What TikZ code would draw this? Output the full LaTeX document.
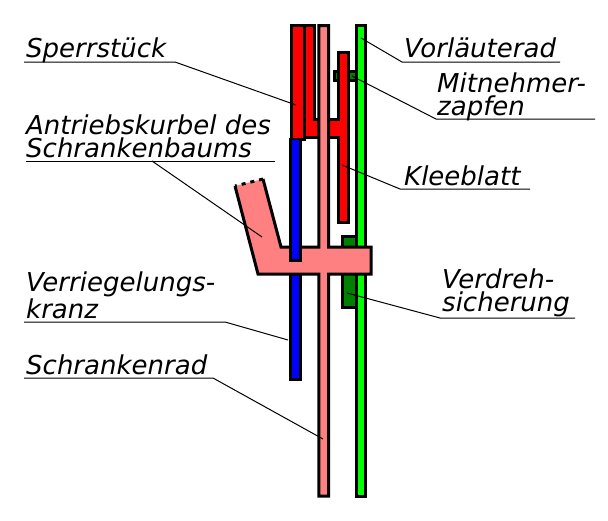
\documentclass[tikz,border=0pt]{standalone}
\usepackage{fontspec}
\setmainfont{DejaVu Sans}
\definecolor{rodpink}{RGB}{255,128,128}
\definecolor{pinred}{RGB}{255,0,0}
\definecolor{wheelgreen}{RGB}{0,255,0}
\definecolor{lockgreen}{RGB}{0,128,0}
\definecolor{ringblue}{RGB}{0,0,255}
\tikzstyle{part} = [draw=black, line width=3pt, miter limit=4]
\tikzstyle{leader} = [draw=black, line width=1pt]
\tikzstyle{lbl} = [inner sep=0pt, anchor=base west, align=left,
    font=\fontsize{26pt}{23pt}\selectfont\itshape]

\begin{document}
\begin{tikzpicture}[x=1pt, y=-1pt]
\useasboundingbox (0,0) rectangle (608,520);
% hidden parts first
\draw[part, fill=ringblue] (290.8,139.5) rectangle (300.2,379.5);
\draw[part, fill=lockgreen] (334,71.5) rectangle (360,80);
\draw[part, fill=lockgreen] (342,236.5) rectangle (360,307);
\draw[part, fill=wheelgreen] (356.5,25.5) rectangle (365.8,496);
% red parts
\draw[part, fill=pinred] (304.5,25.5) -- (314.5,25.5) -- (314.5,119) -- (338,119) -- (338,52.5)
    -- (348,52.5) -- (348,222) -- (338,222) -- (338,137) -- (304.5,137) -- cycle;
\draw[part, fill=pinred] (291.5,25.5) rectangle (304.5,139.5);
% Schrankenrad and crank
\fill[rodpink] (318.8,25.5) -- (328.5,25.5) -- (328.5,247) -- (371,247) -- (371,274) -- (328.5,274)
    -- (328.5,496) -- (318.8,496) -- (318.8,274) -- (258,274) -- (235,186) -- (263,179) -- (281,247)
    -- (318.8,247) -- cycle;
\draw[part, line join=miter] (235,186) -- (258,274) -- (318.8,274) -- (318.8,496) -- (328.5,496) -- (328.5,274)
    -- (371,274) -- (371,247) -- (328.5,247) -- (328.5,25.5) -- (318.8,25.5) -- (318.8,247) -- (281,247) -- (263,179);
\draw[line width=3pt, dash pattern=on 4pt off 5pt] (263,179) -- (235,186);
% ring in front of crank
\draw[part, fill=ringblue] (290.8,139.5) -- (290.8,260) -- (300.2,260) -- (300.2,139.5);
% labels
\node[lbl] (sperr) at (26,57) {Sperrstück};
\node[lbl] (antrieb) at (26,157) {Antriebskurbel des\\Schrankenbaums};
\node[lbl] (verrieg) at (26,318) {Verriegelungs-\\kranz};
\node[lbl] (schrank) at (26,374) {Schrankenrad};
\node[lbl] (vorl) at (404,57) {Vorläuterad};
\node[lbl] (mitn) at (437,115) {Mitnehmer-\\zapfen};
\node[lbl] (klee) at (404,185) {Kleeblatt};
\node[lbl] (verdreh) at (442,311) {Verdreh-\\sicherung};
% leader ends
\coordinate (sperrA) at (24,62);   \coordinate (sperrB) at (175,62);  \coordinate (sperrC) at (296,105);
\coordinate (antrA) at (26,161);   \coordinate (antrB) at (275,161);  \coordinate (antrC) at (152,161);  \coordinate (antrD) at (262,237);
\coordinate (verrA) at (24,322);   \coordinate (verrB) at (225,322);  \coordinate (verrC) at (288,340);
\coordinate (schrA) at (24,378);   \coordinate (schrB) at (213,378);  \coordinate (schrC) at (323,439);
\coordinate (vorlA) at (560,62);   \coordinate (vorlB) at (402,62);   \coordinate (vorlC) at (361,38);
\coordinate (mitnA) at (595,119);  \coordinate (mitnB) at (436,119);  \coordinate (mitnC) at (352,76);
\coordinate (kleeA) at (530,189);  \coordinate (kleeB) at (400,189);  \coordinate (kleeC) at (342,165);
\coordinate (verdA) at (575,318);  \coordinate (verdB) at (440,318);  \coordinate (verdC) at (347,293);
% leaders
\draw[leader] (sperrA) -- (sperrB) -- (sperrC);
\draw[leader] (antrA) -- (antrB);
\draw[leader] (antrC) -- (antrD);
\draw[leader] (verrA) -- (verrB) -- (verrC);
\draw[leader] (schrA) -- (schrB) -- (schrC);
\draw[leader] (vorlA) -- (vorlB) -- (vorlC);
\draw[leader] (mitnA) -- (mitnB) -- (mitnC);
\draw[leader] (kleeA) -- (kleeB) -- (kleeC);
\draw[leader] (verdA) -- (verdB) -- (verdC);
\end{tikzpicture}
\end{document}
